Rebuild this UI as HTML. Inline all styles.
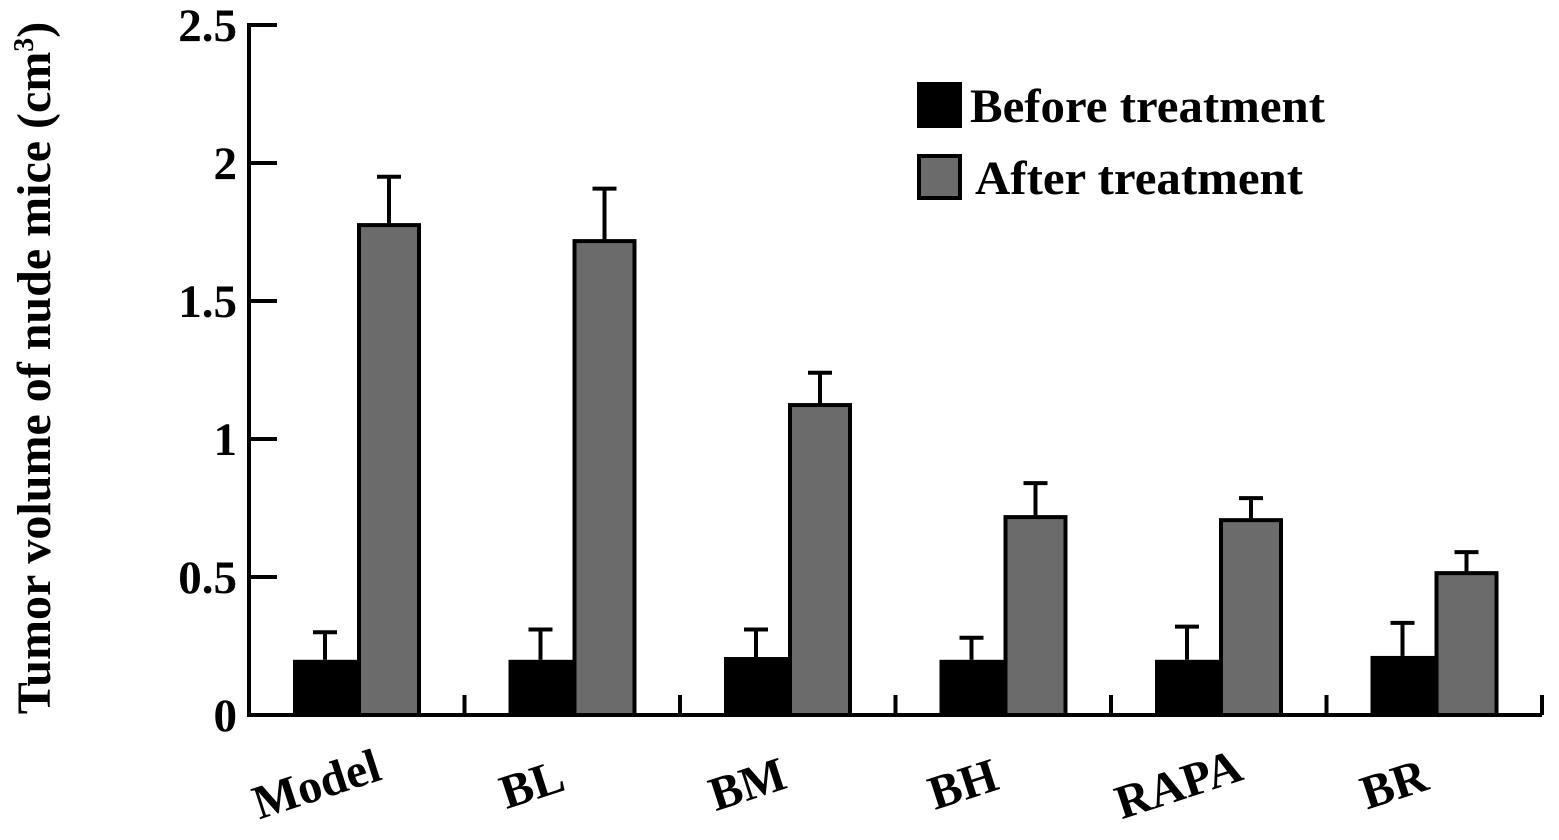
<!DOCTYPE html>
<html><head><meta charset="utf-8"><style>
html,body{margin:0;padding:0;background:#fff;}
svg text{font-family:"Liberation Serif",serif;font-weight:bold;fill:#000;}
</style></head><body>
<svg width="1559" height="835" viewBox="0 0 1559 835">
<g id="plot"></g>
</svg>
<script>
const categories=["Model","BL","BM","BH","RAPA","BR"];
const beforeVals=[0.20,0.20,0.21,0.20,0.20,0.214];
const beforeErr=[0.10,0.11,0.10,0.08,0.12,0.12];
const afterVals=[1.775,1.717,1.123,0.717,0.706,0.514];
const afterErr=[0.175,0.19,0.117,0.123,0.08,0.076];
const yTicks=[0,0.5,1,1.5,2,2.5];
const yTickLabels=["0","0.5","1","1.5","2","2.5"];

const NS="http://www.w3.org/2000/svg";
const g=document.getElementById('plot');
const x0=249,y0=715,pxPerUnit=276,groupW=215.5;
const y=v=>y0-v*pxPerUnit;
const gx=i=>x0+i*groupW;
function mk(t,a){const e=document.createElementNS(NS,t);for(const k in a)e.setAttribute(k,a[k]);g.appendChild(e);return e;}

let e=mk('line',{x1:x0,y1:y(2.5)-2,x2:x0,y2:y0+2,stroke:'#000','stroke-width':4});


e=mk('line',{x1:x0-2,y1:y0,x2:1542,y2:y0,stroke:'#000','stroke-width':4});



yTicks.forEach((v,i)=>{
 let t=mk('line',{x1:x0,y1:y(v),x2:x0+28,y2:y(v),stroke:'#000','stroke-width':4});
 
 
 let l=mk('text',{x:237,y:y(v)+16,'text-anchor':'end','font-size':47});
 l.textContent=yTickLabels[i];
 
 
});
for(let i=1;i<=categories.length;i++){
 let t=mk('line',{x1:gx(i),y1:y0-20,x2:gx(i),y2:y0,stroke:'#000','stroke-width':4});
 
 
}
function errBar(cx,v,er){
 let l=mk('line',{x1:cx,y1:y(v),x2:cx,y2:y(v+er),stroke:'#000','stroke-width':4});
 
 
 let c=mk('line',{x1:cx-12,y1:y(v+er),x2:cx+12,y2:y(v+er),stroke:'#000','stroke-width':4});
 
 
}
categories.forEach((c,i)=>{
 const bx=gx(i)+44,w=64;
 errBar(bx+w/2,beforeVals[i],beforeErr[i]);
 errBar(bx+w+w/2,afterVals[i],afterErr[i]);
 let b=mk('rect',{x:bx,y:y(beforeVals[i]),width:w,height:y0-y(beforeVals[i]),fill:'#000'});
 
 
 let a=mk('rect',{x:bx+w+2,y:y(afterVals[i]),width:w-4,height:y0-y(afterVals[i]),fill:'#6b6b6b',stroke:'#000','stroke-width':4});
 
 
 let cxl=gx(i)+groupW/2-40;
 let t=mk('text',{x:cxl,y:800,'text-anchor':'middle','font-size':48,transform:`rotate(-18 ${cxl} 785)`});
 t.textContent=c;
 
 
});
let yt=mk('text',{x:0,y:0,'text-anchor':'middle','font-size':48,transform:'translate(50 368) rotate(-90)'});
yt.innerHTML='Tumor volume of nude mice (cm<tspan dy="-17" font-size="28">3</tspan><tspan dy="17">)</tspan>';


let lb=mk('rect',{x:917,y:82,width:45,height:46,fill:'#000'});


let la=mk('rect',{x:919,y:156,width:41,height:42,fill:'#6b6b6b',stroke:'#000','stroke-width':4});


let t1=mk('text',{x:970,y:122,'font-size':48,textLength:355,lengthAdjust:'spacingAndGlyphs'});t1.textContent='Before treatment';


let t2=mk('text',{x:975,y:194,'font-size':48,textLength:328,lengthAdjust:'spacingAndGlyphs'});t2.textContent='After treatment';


</script>
</body></html>
